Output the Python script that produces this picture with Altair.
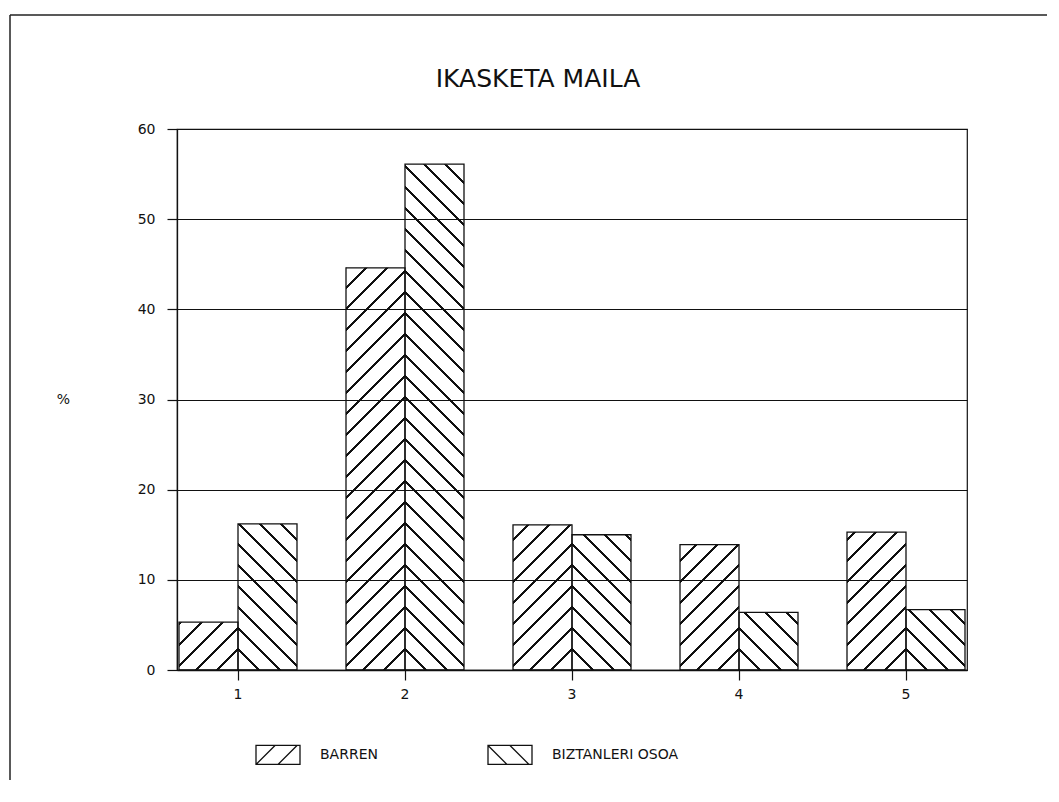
import math
import altair as alt

# ---- data ----
CATEGORIES = ["1", "2", "3", "4", "5"]
SERIES = ["BARREN", "BIZTANLERI OSOA"]
BARREN = [5.3, 44.6, 16.1, 13.9, 15.3]
BIZTANLERI_OSOA = [16.2, 56.1, 15.0, 6.4, 6.7]
Y_TICKS = [0, 10, 20, 30, 40, 50, 60]
TITLE = "IKASKETA MAILA"
Y_TITLE = "%"

# ---- layout / style ----
PLOT_W, PLOT_H = 790, 541
Y_MAX = 60
PAD_INNER, PAD_OUTER = 0.295, 0.01
HATCH_STEP = 21.0          # horizontal distance between hatch lines (px)
LINE_HALF = 1.05           # half thickness of a hatch line along the gradient
INK = "#111111"
CLEAR = "rgba(255,255,255,0)"
FONT = "DejaVu Sans"
LEAN = {"BARREN": "/", "BIZTANLERI OSOA": "\\"}

# band scale with round=True: integer step and bandwidth
step = math.floor(PLOT_W / (len(CATEGORIES) - PAD_INNER + 2 * PAD_OUTER))
band = round(step * (1 - PAD_INNER))
bar_w = band / len(SERIES)


def hatch(value, lean):
    """Linear gradient (bounding-box units) that draws 45 degree hatch lines."""
    w = bar_w
    h = max(value * PLOT_H / Y_MAX, 0.5)
    L = w + h
    k = L / (w * w + h * h)
    centers = []
    if lean == "/":
        s = L
        while s > -LINE_HALF:
            centers.append(s / L)
            s -= HATCH_STEP
        grad = {"gradient": "linear", "x1": 0, "y1": 0, "x2": k * w, "y2": k * h}
    else:
        s = 0.0
        while s < L + LINE_HALF:
            centers.append(s / L)
            s += HATCH_STEP
        grad = {"gradient": "linear", "x1": 0, "y1": 1, "x2": k * w, "y2": 1 - k * h}
    centers.sort()
    d = LINE_HALF / L
    stops = [{"offset": 0, "color": CLEAR}]
    last = 0.0
    for c in centers:
        a = round(max(last, max(0.0, c - d)), 6)
        b = round(min(1.0, c + d), 6)
        if b <= a:
            continue
        stops += [
            {"offset": a, "color": CLEAR},
            {"offset": a, "color": INK},
            {"offset": b, "color": INK},
            {"offset": b, "color": CLEAR},
        ]
        last = b
    stops.append({"offset": 1, "color": CLEAR})
    grad["stops"] = stops
    return grad


rows = []
for series, values in zip(SERIES, [BARREN, BIZTANLERI_OSOA]):
    for cat, v in zip(CATEGORIES, values):
        rows.append({"cat": cat, "series": series, "value": v,
                     "hatch": hatch(v, LEAN[series])})

x_enc = alt.X(
    "cat:N",
    sort=CATEGORIES,
    scale=alt.Scale(paddingInner=PAD_INNER, paddingOuter=PAD_OUTER, round=True),
    axis=alt.Axis(title=None, labelAngle=0, tickSize=10, tickWidth=1.2,
                  labelPadding=7, grid=False, labelFontSize=14),
)
y_enc = alt.Y(
    "value:Q",
    stack=None,
    scale=alt.Scale(domain=[0, Y_MAX], nice=False, zero=True),
    axis=alt.Axis(values=Y_TICKS, grid=True, gridColor=INK, gridWidth=1,
                  gridOpacity=1, tickSize=10, tickWidth=1.2, labelPadding=12,
                  labelFontSize=14, title=Y_TITLE, titleAngle=0,
                  titleX=-114, titleY=PLOT_H / 2, titleAlign="center",
                  titleBaseline="middle", titleFontSize=14,
                  titleFontWeight="normal", titleFont=FONT),
)

bars = alt.Chart(alt.Data(values=rows)).mark_bar(
    stroke=INK, strokeWidth=1.3
).encode(
    x=x_enc,
    xOffset=alt.XOffset("series:N", sort=SERIES),
    y=y_enc,
    fill=alt.Fill("hatch:N", scale=None, legend=None),
)

# legend: hatched boxes drawn as custom symbol paths
P_SLASH = ("M-1,-0.432H1V0.432H-1Z "
           "M-1,0.432L-0.136,-0.432 M0,0.432L0.864,-0.432")
P_BACK = ("M-1,-0.432H1V0.432H-1Z "
          "M-1,-0.432L-0.136,0.432 M0,-0.432L0.864,0.432")

legend_layer = alt.Chart(
    alt.Data(values=[{"series": s} for s in SERIES])
).transform_filter("false").mark_point(
    color=INK, filled=False
).encode(
    shape=alt.Shape(
        "series:N",
        scale=alt.Scale(domain=SERIES, range=[P_SLASH, P_BACK]),
        legend=alt.Legend(
            title=None, orient="none", legendX=78, legendY=PLOT_H + 61.5,
            direction="horizontal", symbolSize=1936, symbolStrokeWidth=1.3,
            symbolStrokeColor=INK, symbolFillColor="transparent",
            symbolOpacity=1, labelFont=FONT, labelFontSize=14,
            labelFontWeight="normal",
            labelColor=INK, labelOffset=19, columnPadding=107, padding=0,
        ),
    )
)

title_layer = alt.Chart(alt.Data(values=[{"t": TITLE}])).mark_text(
    font=FONT, fontSize=25, fontWeight="normal", color=INK,
    align="center", baseline="alphabetic",
).encode(text="t:N", x=alt.value(361), y=alt.value(-42))

frame_top = alt.Chart(alt.Data(values=[{"k": 0}])).mark_rule(
    color="#222222", strokeWidth=1.5
).encode(x=alt.value(-167), x2=alt.value(870), y=alt.value(-114))

frame_left = alt.Chart(alt.Data(values=[{"k": 0}])).mark_rule(
    color="#222222", strokeWidth=1.5
).encode(x=alt.value(-167), y=alt.value(-114), y2=alt.value(651))

chart = alt.layer(bars, legend_layer, title_layer, frame_top, frame_left).properties(
    width=PLOT_W,
    height=PLOT_H,
    padding={"left": 1, "top": 6, "right": 0, "bottom": 0},
    background="white",
).configure_view(
    stroke=INK, strokeWidth=1.2
).configure_axis(
    domainColor=INK, domainWidth=1.3, tickColor=INK, labelColor=INK,
    titleColor=INK, labelFont=FONT, labelFontWeight="normal",
)

chart.save("out.html", embed_options={"renderer": "svg", "actions": False})
